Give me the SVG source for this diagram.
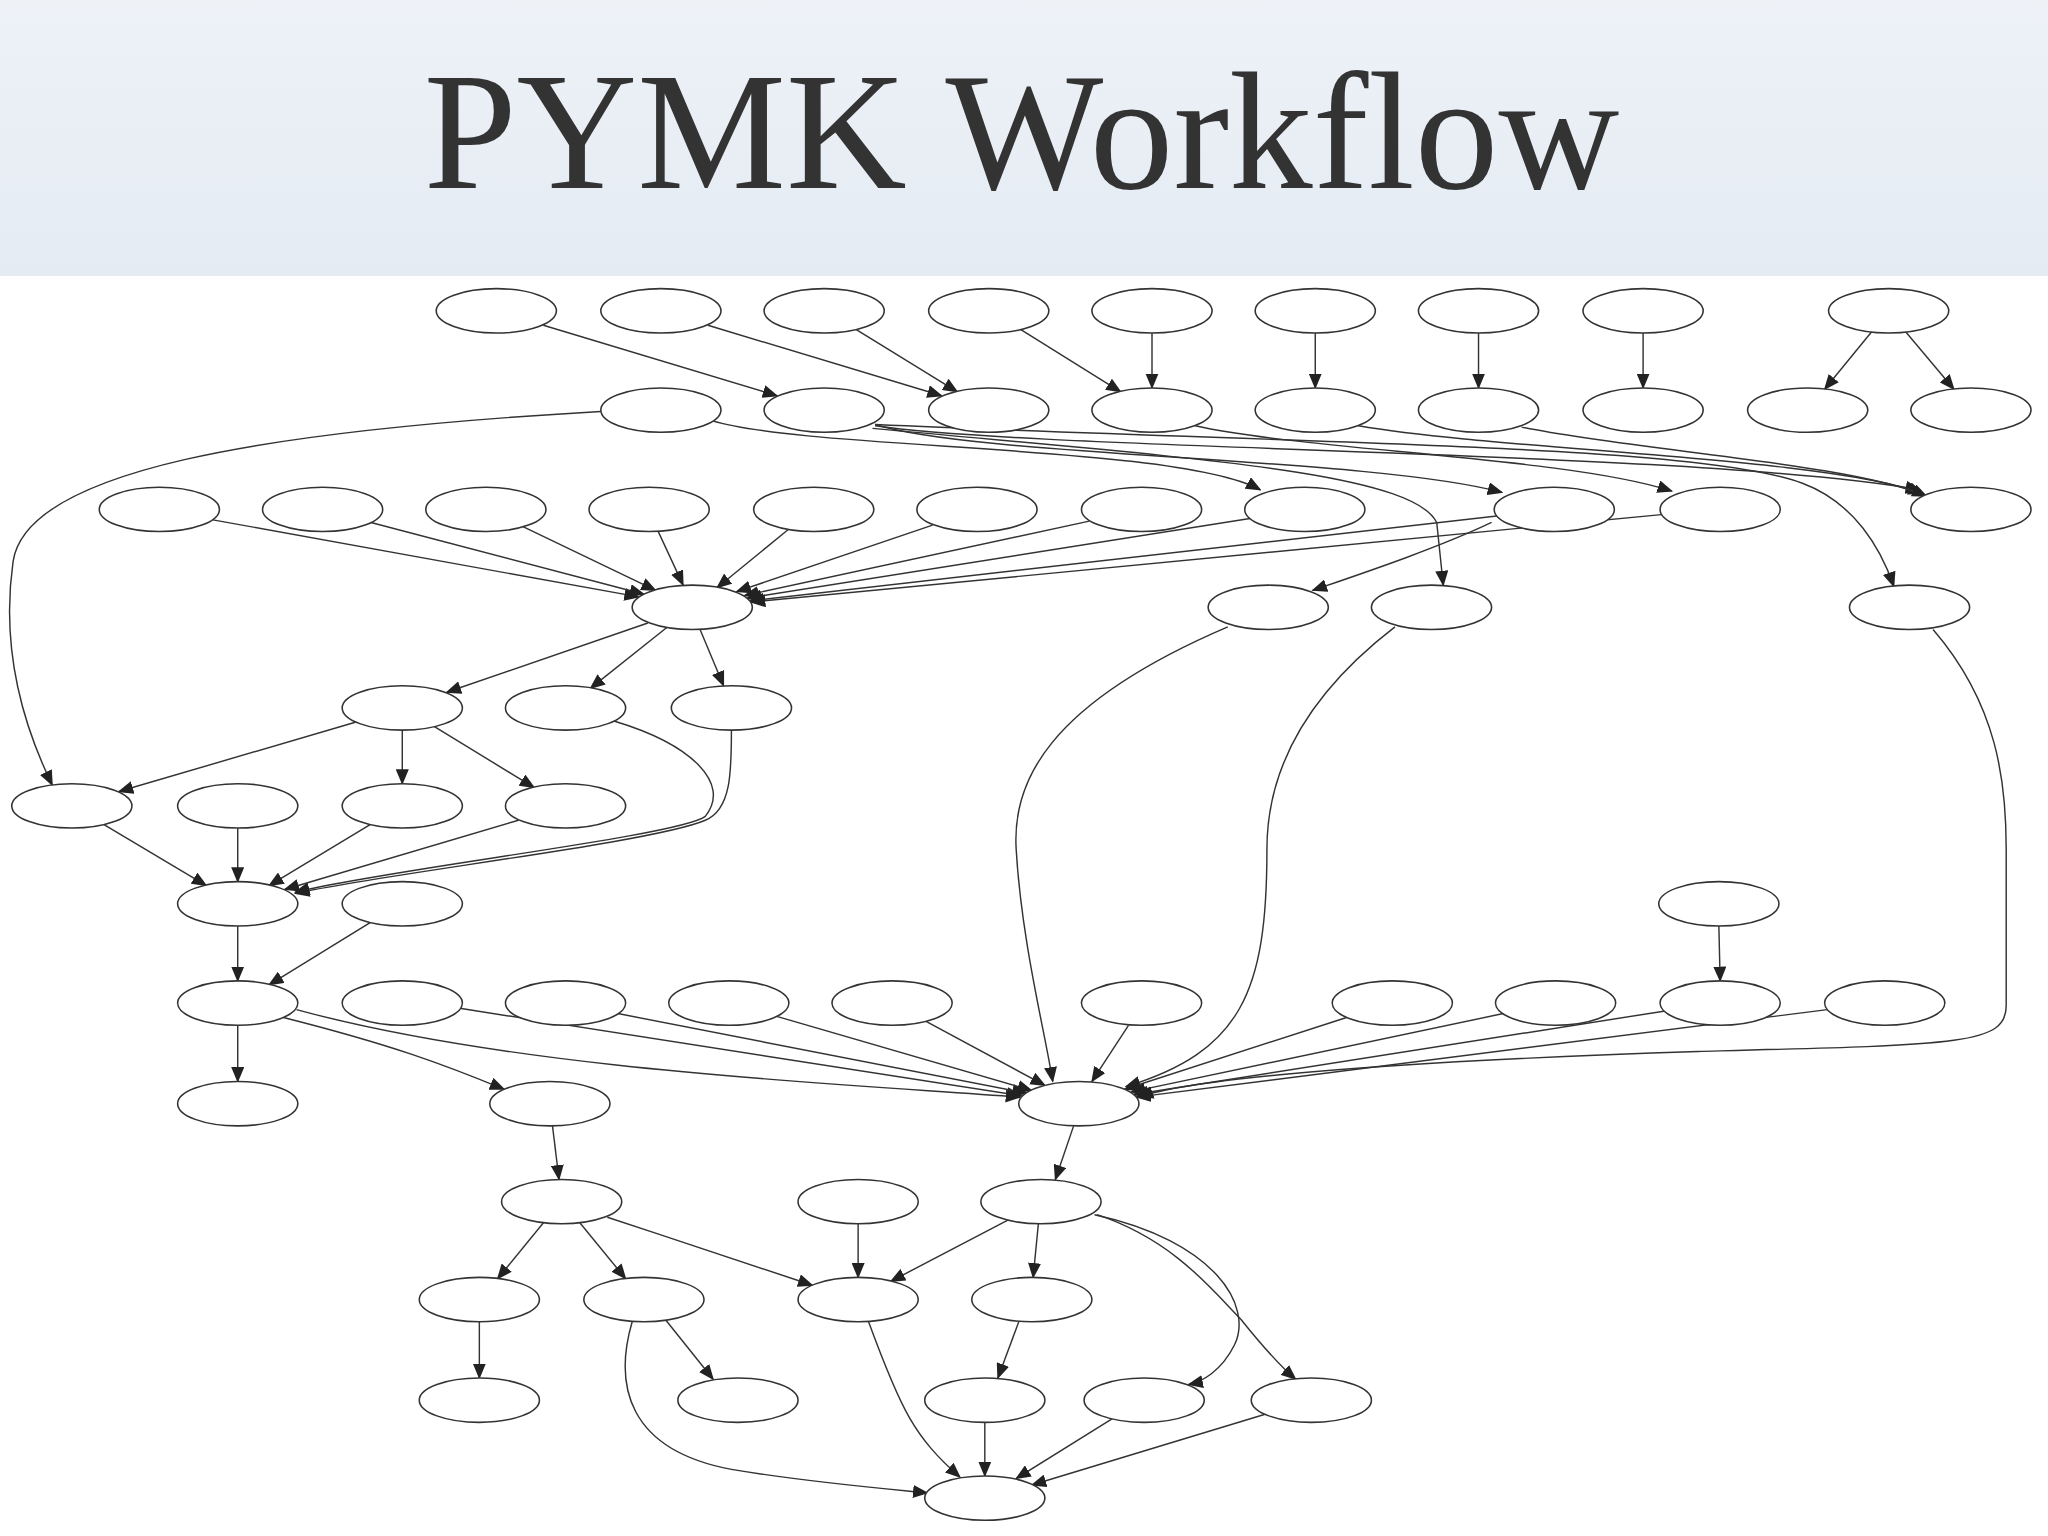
<svg xmlns="http://www.w3.org/2000/svg" width="2048" height="1536" viewBox="0 0 2048 1536">
<defs>
<linearGradient id="bg" x1="0" y1="0" x2="0" y2="1"><stop offset="0" stop-color="#eef2f7"/><stop offset="1" stop-color="#e4ebf3"/></linearGradient>
<marker id="a" markerUnits="userSpaceOnUse" markerWidth="12" markerHeight="10" refX="11" refY="5" orient="auto"><path d="M0,0 L12,5 L0,10 z" fill="#222"/></marker>
<style>
.n ellipse{fill:#fff;stroke:#333;stroke-width:1.2}
#edges path{fill:none;stroke:#333;stroke-width:1.1;marker-end:url(#a)}
.t{font-family:"Liberation Serif",serif;font-size:128px;fill:#333}
</style>
</defs>
<rect width="2048" height="1536" fill="#fff"/>
<rect width="2048" height="276" fill="url(#bg)"/>
<g transform="scale(1.30612)">
<text class="t" x="782" y="144" text-anchor="middle">PYMK Workflow</text>
<g id="edges">
<path d="M416,249 L595,303"/><path d="M542,249 L721,303"/><path d="M655,252 L733,300"/><path d="M781,252 L858,300"/>
<path d="M882,255 L882,297"/><path d="M1007,255 L1007,297"/><path d="M1132,255 L1132,297"/><path d="M1258,255 L1258,297"/>
<path d="M1433,254 L1397,298"/><path d="M1459,254 L1496,298"/>
<path d="M460,315 C200,330 20,360 10,430 C0,500 20,560 40,601"/>
<path d="M545,322 C620,345 900,340 965,375"/>
<path d="M670,325 C750,350 1050,350 1150,377"/>
<path d="M670,326 C800,345 1300,345 1470,375"/>
<path d="M668,328 C900,350 1080,360 1100,400 L1105,448"/>
<path d="M670,325 C1000,340 1300,340 1380,370 C1420,385 1440,420 1450,449"/>
<path d="M915,326 C1000,345 1200,350 1280,376"/>
<path d="M1040,326 C1150,345 1400,350 1472,378"/>
<path d="M1165,327 C1250,345 1420,355 1475,380"/>
<path d="M1142,400 C1100,420 1040,440 1005,452"/>
<path d="M163,398 L489,457"/><path d="M284,400 L493,455"/><path d="M400,403 L502,452"/><path d="M504,407 L523,448"/>
<path d="M604,405 L549,450"/><path d="M714,402 L564,453"/><path d="M834,399 L570,456"/><path d="M957,397 L572,458"/>
<path d="M1146,395 L574,460"/><path d="M1272,394 L575,461"/>
<path d="M496,477 L342,530"/><path d="M511,480 L452,527"/><path d="M536,482 L554,525"/>
<path d="M272,553 L91,606"/><path d="M308,559 L308,600"/><path d="M332,556 L409,603"/>
<path d="M470,552 C530,570 560,600 540,625 C520,640 300,665 226,683"/>
<path d="M560,559 C560,590 560,620 540,628 C500,645 300,668 226,684"/>
<path d="M79,631 L158,678"/><path d="M182,634 L182,675"/><path d="M284,631 L206,678"/><path d="M397,628 L218,681"/>
<path d="M182,709 L182,751"/><path d="M284,706 L206,754"/>
<path d="M182,785 L182,828"/>
<path d="M217,779 C300,800 340,815 386,834"/>
<path d="M227,773 C400,820 650,830 781,840"/>
<path d="M352,772 L782,839"/><path d="M473,776 L786,837"/><path d="M594,778 L790,835"/><path d="M709,782 L800,831"/>
<path d="M864,785 L836,828"/><path d="M1031,779 L861,834"/><path d="M1151,776 L866,836"/><path d="M1275,774 L868,838"/><path d="M1399,773 L870,840"/>
<path d="M1316,709 L1317,751"/>
<path d="M940,480 C800,540 775,600 778,650 C782,720 800,790 806,828"/>
<path d="M1068,480 C990,540 970,600 970,650 C970,760 950,805 862,832"/>
<path d="M1480,482 C1530,540 1536,600 1536,650 L1536,770 C1536,800 1500,800 1300,805 C1000,815 900,830 872,840"/>
<path d="M423,862 L428,903"/><path d="M822,862 L808,903"/>
<path d="M417,935 L381,979"/><path d="M443,935 L479,979"/><path d="M465,932 C520,950 580,970 622,984"/>
<path d="M657,937 L657,978"/><path d="M772,934 L682,981"/><path d="M795,937 L791,978"/>
<path d="M838,930 C930,950 960,1000 945,1030 C935,1050 920,1058 910,1060"/>
<path d="M840,930 C900,950 930,990 950,1010 C970,1035 985,1050 992,1056"/>
<path d="M367,1012 L367,1055"/><path d="M510,1011 L546,1056"/>
<path d="M484,1012 C470,1060 480,1110 560,1125 C620,1135 680,1140 710,1143"/>
<path d="M665,1012 C690,1080 700,1100 735,1131"/>
<path d="M780,1012 L764,1055"/>
<path d="M754,1089 L754,1130"/><path d="M852,1086 L778,1132"/><path d="M968,1083 L790,1137"/>
</g>
<g id="n1" class="n"><ellipse cx="380" cy="238" rx="46" ry="17"/></g>
<g id="n2" class="n"><ellipse cx="506" cy="238" rx="46" ry="17"/></g>
<g id="n3" class="n"><ellipse cx="631" cy="238" rx="46" ry="17"/></g>
<g id="n4" class="n"><ellipse cx="757" cy="238" rx="46" ry="17"/></g>
<g id="n5" class="n"><ellipse cx="882" cy="238" rx="46" ry="17"/></g>
<g id="n6" class="n"><ellipse cx="1007" cy="238" rx="46" ry="17"/></g>
<g id="n7" class="n"><ellipse cx="1132" cy="238" rx="46" ry="17"/></g>
<g id="n8" class="n"><ellipse cx="1258" cy="238" rx="46" ry="17"/></g>
<g id="n9" class="n"><ellipse cx="1446" cy="238" rx="46" ry="17"/></g>
<g id="n10" class="n"><ellipse cx="506" cy="314" rx="46" ry="17"/></g>
<g id="n11" class="n"><ellipse cx="631" cy="314" rx="46" ry="17"/></g>
<g id="n12" class="n"><ellipse cx="757" cy="314" rx="46" ry="17"/></g>
<g id="n13" class="n"><ellipse cx="882" cy="314" rx="46" ry="17"/></g>
<g id="n14" class="n"><ellipse cx="1007" cy="314" rx="46" ry="17"/></g>
<g id="n15" class="n"><ellipse cx="1132" cy="314" rx="46" ry="17"/></g>
<g id="n16" class="n"><ellipse cx="1258" cy="314" rx="46" ry="17"/></g>
<g id="n17" class="n"><ellipse cx="1384" cy="314" rx="46" ry="17"/></g>
<g id="n18" class="n"><ellipse cx="1509" cy="314" rx="46" ry="17"/></g>
<g id="n19" class="n"><ellipse cx="122" cy="390" rx="46" ry="17"/></g>
<g id="n20" class="n"><ellipse cx="247" cy="390" rx="46" ry="17"/></g>
<g id="n21" class="n"><ellipse cx="372" cy="390" rx="46" ry="17"/></g>
<g id="n22" class="n"><ellipse cx="497" cy="390" rx="46" ry="17"/></g>
<g id="n23" class="n"><ellipse cx="623" cy="390" rx="46" ry="17"/></g>
<g id="n24" class="n"><ellipse cx="748" cy="390" rx="46" ry="17"/></g>
<g id="n25" class="n"><ellipse cx="874" cy="390" rx="46" ry="17"/></g>
<g id="n26" class="n"><ellipse cx="999" cy="390" rx="46" ry="17"/></g>
<g id="n27" class="n"><ellipse cx="1190" cy="390" rx="46" ry="17"/></g>
<g id="n28" class="n"><ellipse cx="1317" cy="390" rx="46" ry="17"/></g>
<g id="n29" class="n"><ellipse cx="1509" cy="390" rx="46" ry="17"/></g>
<g id="n30" class="n"><ellipse cx="530" cy="465" rx="46" ry="17"/></g>
<g id="n31" class="n"><ellipse cx="971" cy="465" rx="46" ry="17"/></g>
<g id="n32" class="n"><ellipse cx="1096" cy="465" rx="46" ry="17"/></g>
<g id="n33" class="n"><ellipse cx="1462" cy="465" rx="46" ry="17"/></g>
<g id="n34" class="n"><ellipse cx="308" cy="542" rx="46" ry="17"/></g>
<g id="n35" class="n"><ellipse cx="433" cy="542" rx="46" ry="17"/></g>
<g id="n36" class="n"><ellipse cx="560" cy="542" rx="46" ry="17"/></g>
<g id="n37" class="n"><ellipse cx="55" cy="617" rx="46" ry="17"/></g>
<g id="n38" class="n"><ellipse cx="182" cy="617" rx="46" ry="17"/></g>
<g id="n39" class="n"><ellipse cx="308" cy="617" rx="46" ry="17"/></g>
<g id="n40" class="n"><ellipse cx="433" cy="617" rx="46" ry="17"/></g>
<g id="n41" class="n"><ellipse cx="182" cy="692" rx="46" ry="17"/></g>
<g id="n42" class="n"><ellipse cx="308" cy="692" rx="46" ry="17"/></g>
<g id="n43" class="n"><ellipse cx="1316" cy="692" rx="46" ry="17"/></g>
<g id="n44" class="n"><ellipse cx="182" cy="768" rx="46" ry="17"/></g>
<g id="n45" class="n"><ellipse cx="308" cy="768" rx="46" ry="17"/></g>
<g id="n46" class="n"><ellipse cx="433" cy="768" rx="46" ry="17"/></g>
<g id="n47" class="n"><ellipse cx="558" cy="768" rx="46" ry="17"/></g>
<g id="n48" class="n"><ellipse cx="683" cy="768" rx="46" ry="17"/></g>
<g id="n49" class="n"><ellipse cx="874" cy="768" rx="46" ry="17"/></g>
<g id="n50" class="n"><ellipse cx="1066" cy="768" rx="46" ry="17"/></g>
<g id="n51" class="n"><ellipse cx="1191" cy="768" rx="46" ry="17"/></g>
<g id="n52" class="n"><ellipse cx="1317" cy="768" rx="46" ry="17"/></g>
<g id="n53" class="n"><ellipse cx="1443" cy="768" rx="46" ry="17"/></g>
<g id="n54" class="n"><ellipse cx="182" cy="845" rx="46" ry="17"/></g>
<g id="n55" class="n"><ellipse cx="421" cy="845" rx="46" ry="17"/></g>
<g id="n56" class="n"><ellipse cx="826" cy="845" rx="46" ry="17"/></g>
<g id="n57" class="n"><ellipse cx="430" cy="920" rx="46" ry="17"/></g>
<g id="n58" class="n"><ellipse cx="657" cy="920" rx="46" ry="17"/></g>
<g id="n59" class="n"><ellipse cx="797" cy="920" rx="46" ry="17"/></g>
<g id="n60" class="n"><ellipse cx="367" cy="995" rx="46" ry="17"/></g>
<g id="n61" class="n"><ellipse cx="493" cy="995" rx="46" ry="17"/></g>
<g id="n62" class="n"><ellipse cx="657" cy="995" rx="46" ry="17"/></g>
<g id="n63" class="n"><ellipse cx="790" cy="995" rx="46" ry="17"/></g>
<g id="n64" class="n"><ellipse cx="367" cy="1072" rx="46" ry="17"/></g>
<g id="n65" class="n"><ellipse cx="565" cy="1072" rx="46" ry="17"/></g>
<g id="n66" class="n"><ellipse cx="754" cy="1072" rx="46" ry="17"/></g>
<g id="n67" class="n"><ellipse cx="876" cy="1072" rx="46" ry="17"/></g>
<g id="n68" class="n"><ellipse cx="1004" cy="1072" rx="46" ry="17"/></g>
<g id="n69" class="n"><ellipse cx="754" cy="1147" rx="46" ry="17"/></g>
</g>
</svg>
